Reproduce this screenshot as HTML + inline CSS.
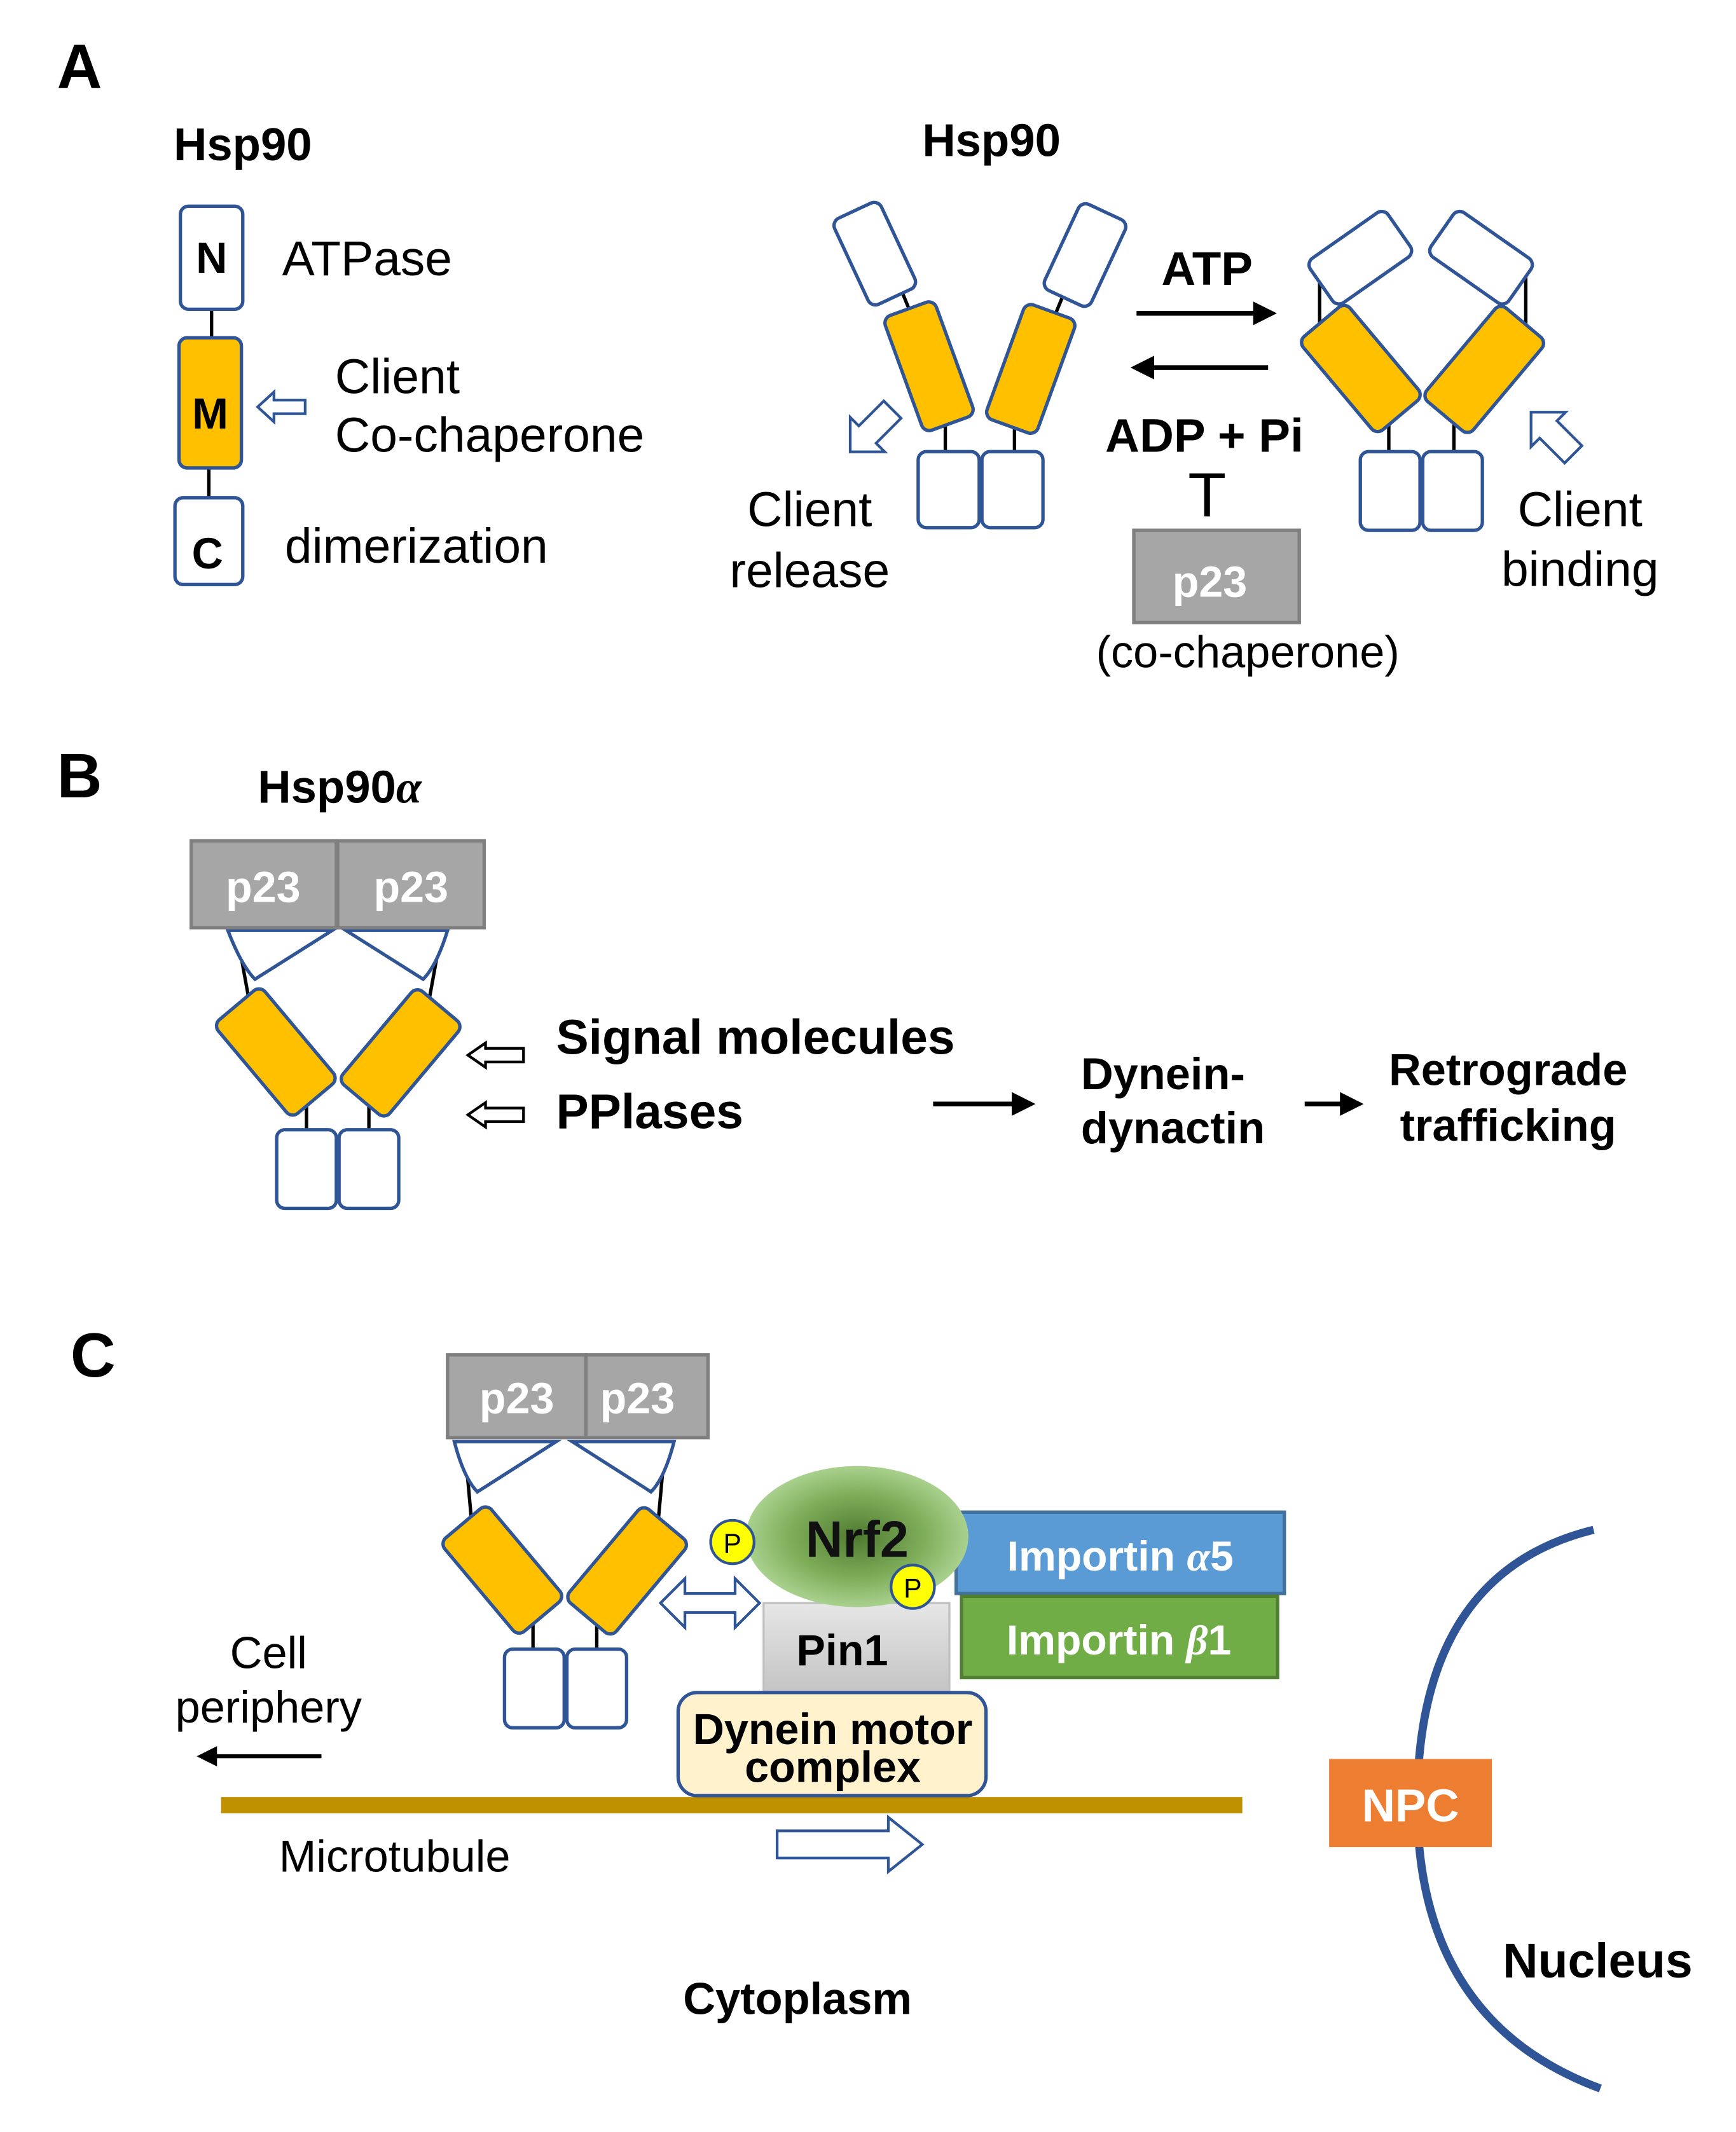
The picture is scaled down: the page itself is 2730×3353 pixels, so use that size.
<!DOCTYPE html>
<html><head><meta charset="utf-8"><style>html,body{margin:0;padding:0;background:#fff}svg{display:block}</style></head>
<body>
<svg width="2730" height="3353" viewBox="0 0 1280 1572" xmlns="http://www.w3.org/2000/svg" font-family="Liberation Sans, Arial, sans-serif">
<defs>
<radialGradient id="ng" cx="50%" cy="50%" r="50%"><stop offset="0" stop-color="#4e7a30"/><stop offset="0.6" stop-color="#7fae5a"/><stop offset="1" stop-color="#a9d18e"/></radialGradient>
<linearGradient id="pg" x1="0" y1="0" x2="0" y2="1"><stop offset="0" stop-color="#e6e6e6"/><stop offset="1" stop-color="#c4c4c4"/></linearGradient>
<marker id="ah" markerWidth="5" markerHeight="5" refX="4" refY="2.5" orient="auto" markerUnits="strokeWidth"><path d="M0,0 L5,2.5 L0,5 z" fill="#000"/></marker>
</defs>
<g stroke="#2f5597" stroke-width="2.5" fill="#fff">
<line x1="156" y1="228" x2="156" y2="250" stroke="#000"/><line x1="154" y1="345" x2="154" y2="367" stroke="#000"/>
<rect x="133" y="152" width="46" height="76" rx="6"/>
<rect x="132" y="249" width="46" height="96" rx="6" fill="#ffc000"/>
<rect x="129" y="367" width="50" height="64" rx="6"/>
<path d="M190,300 L202,289 L202,295 L225,295 L225,305 L202,305 L202,311 Z" stroke-width="2"/>
<line x1="665" y1="215" x2="672" y2="232" stroke="#000"/><line x1="785" y1="215" x2="778" y2="232" stroke="#000"/>
<line x1="697" y1="312" x2="697" y2="333" stroke="#000"/><line x1="748" y1="312" x2="748" y2="333" stroke="#000"/>
<rect x="626" y="152" width="38" height="70" rx="6" transform="rotate(-25 645 187)"/>
<rect x="781" y="153" width="38" height="70" rx="6" transform="rotate(25 800 188)"/>
<rect x="665" y="225" width="40" height="90" rx="6" fill="#ffc000" transform="rotate(-20 685 270)"/>
<rect x="740" y="227" width="40" height="90" rx="6" fill="#ffc000" transform="rotate(20 760 272)"/>
<rect x="677" y="333" width="45" height="56" rx="6"/><rect x="724" y="333" width="45" height="56" rx="6"/>
<line x1="973" y1="195" x2="973" y2="242" stroke="#000"/><line x1="1125" y1="195" x2="1125" y2="242" stroke="#000"/>
<line x1="1024" y1="310" x2="1024" y2="333" stroke="#000"/><line x1="1072" y1="310" x2="1072" y2="333" stroke="#000"/>
<rect x="968" y="170" width="70" height="40" rx="6" transform="rotate(-35 1003 190)"/>
<rect x="1057" y="170" width="70" height="40" rx="6" transform="rotate(35 1092 190)"/>
<rect x="981" y="227" width="45" height="90" rx="6" fill="#ffc000" transform="rotate(-40 1003 272)"/>
<rect x="1072" y="227" width="45" height="90" rx="6" fill="#ffc000" transform="rotate(40 1094 272)"/>
<rect x="1003" y="333" width="44" height="58" rx="6"/><rect x="1049" y="333" width="44" height="58" rx="6"/>
<path d="M0,-9 L26,-9 L26,-18 L44,0 L26,18 L26,9 L0,9 Z" transform="translate(658,302) rotate(135)" stroke-width="2"/>
<path d="M0,-9 L26,-9 L26,-18 L44,0 L26,18 L26,9 L0,9 Z" transform="translate(1160,335) rotate(-135)" stroke-width="2"/>
<line x1="175" y1="690" x2="185" y2="745" stroke="#000"/><line x1="325" y1="690" x2="315" y2="745" stroke="#000"/>
<line x1="226" y1="812" x2="226" y2="833" stroke="#000"/><line x1="272" y1="812" x2="272" y2="833" stroke="#000"/>
<path d="M168,686 L245,686 L188,722 Q178,712 168,686 Z"/>
<path d="M255,686 L330,686 Q322,712 312,722 Z"/>
<rect x="181" y="731" width="45" height="90" rx="6" fill="#ffc000" transform="rotate(-40 203 776)"/>
<rect x="273" y="731" width="45" height="90" rx="6" fill="#ffc000" transform="rotate(40 295 776)"/>
<rect x="204" y="833" width="44" height="58" rx="6"/><rect x="250" y="833" width="44" height="58" rx="6"/>
<path d="M345,778 L358,769 L358,773 L386,773 L386,783 L358,783 L358,787 Z" stroke="#000" stroke-width="2"/>
<path d="M345,822 L358,813 L358,817 L386,817 L386,827 L358,827 L358,831 Z" stroke="#000" stroke-width="2"/>
<line x1="343" y1="1070" x2="348" y2="1125" stroke="#000"/><line x1="490" y1="1070" x2="485" y2="1125" stroke="#000"/>
<line x1="393" y1="1195" x2="393" y2="1216" stroke="#000"/><line x1="440" y1="1195" x2="440" y2="1216" stroke="#000"/>
<path d="M335,1063 L410,1063 L352,1100 Q342,1090 335,1063 Z"/>
<path d="M422,1063 L497,1063 Q490,1090 480,1100 Z"/>
<rect x="348" y="1113" width="45" height="90" rx="6" fill="#ffc000" transform="rotate(-40 370 1158)"/>
<rect x="440" y="1113" width="45" height="90" rx="6" fill="#ffc000" transform="rotate(40 462 1158)"/>
<rect x="372" y="1216" width="44" height="58" rx="6"/><rect x="418" y="1216" width="44" height="58" rx="6"/>
<path d="M487,1182 L505,1164 L505,1175 L542,1175 L542,1164 L560,1182 L542,1200 L542,1189 L505,1189 L505,1200 Z" stroke-width="2"/>
<path d="M573,1350 L655,1350 L655,1340 L680,1360 L655,1380 L655,1370 L573,1370 Z" stroke-width="2"/>
</g>
<g font-weight="bold" fill="#000">
<text x="42" y="65" font-size="46">A</text>
<text x="128" y="118" font-size="34">Hsp90</text>
<text x="156" y="201" font-size="32" text-anchor="middle">N</text>
<text x="155" y="316" font-size="32" text-anchor="middle">M</text>
<text x="153" y="419" font-size="32" text-anchor="middle">C</text>
<text x="680" y="115" font-size="34">Hsp90</text>
<text x="890" y="210" font-size="35" text-anchor="middle">ATP</text>
<text x="888" y="333" font-size="35" text-anchor="middle">ADP + Pi</text>
<text x="42" y="588" font-size="46">B</text>
<text x="190" y="592" font-size="34">Hsp90<tspan font-family="Liberation Serif, serif" font-style="italic">α</tspan></text>
<text x="410" y="777" font-size="36">Signal molecules</text>
<text x="410" y="832" font-size="36">PPlases</text>
<text x="797" y="803" font-size="33">Dynein-</text>
<text x="797" y="843" font-size="33">dynactin</text>
<text x="1112" y="800" font-size="33" text-anchor="middle">Retrograde</text>
<text x="1112" y="841" font-size="33" text-anchor="middle">trafficking</text>
<text x="52" y="1015" font-size="46">C</text>
<text x="588" y="1485" font-size="33" text-anchor="middle">Cytoplasm</text>
<text x="1178" y="1458" font-size="36" text-anchor="middle">Nucleus</text>
</g>
<g font-size="36" fill="#000">
<text x="208" y="203">ATPase</text>
<text x="247" y="290">Client</text>
<text x="247" y="333">Co-chaperone</text>
<text x="210" y="415">dimerization</text>
<text x="597" y="388" text-anchor="middle">Client</text>
<text x="597" y="433" text-anchor="middle">release</text>
<text x="1165" y="388" text-anchor="middle">Client</text>
<text x="1165" y="432" text-anchor="middle">binding</text>
<text x="920" y="492" text-anchor="middle" font-size="33">(co-chaperone)</text>
<text x="198" y="1230" text-anchor="middle" font-size="33">Cell</text>
<text x="198" y="1270" text-anchor="middle" font-size="33">periphery</text>
<text x="291" y="1380" text-anchor="middle" font-size="33">Microtubule</text>
<text x="890" y="381" text-anchor="middle" font-size="46">T</text>
</g>
<g stroke="#000" stroke-width="3.5" fill="none">
<line x1="838" y1="231" x2="938" y2="231" marker-end="url(#ah)"/>
<line x1="935" y1="271" x2="837" y2="271" marker-end="url(#ah)"/>
<line x1="688" y1="814" x2="760" y2="814" marker-end="url(#ah)"/>
<line x1="962" y1="814" x2="1002" y2="814" marker-end="url(#ah)"/>
<line x1="237" y1="1295" x2="148" y2="1295" stroke-width="3" marker-end="url(#ah)"/>
</g>
<g fill="#a6a6a6" stroke="#7f7f7f" stroke-width="2.5">
<rect x="836" y="391" width="122" height="68"/>
<rect x="141" y="620" width="107" height="64"/><rect x="249" y="620" width="108" height="64"/>
<rect x="330" y="999" width="102" height="61"/><rect x="432" y="999" width="90" height="61"/>
</g>
<g fill="#fff" font-weight="bold" font-size="32" text-anchor="middle">
<text x="892" y="440">p23</text>
<text x="194" y="665">p23</text><text x="303" y="665">p23</text>
<text x="381" y="1042">p23</text><text x="470" y="1042">p23</text>
</g>
<line x1="163" y1="1331" x2="916" y2="1331" stroke="#bf9000" stroke-width="12"/>
<rect x="705" y="1115" width="242" height="60" fill="#5b9bd5" stroke="#41719c" stroke-width="2.5"/>
<rect x="709" y="1177" width="233" height="60" fill="#70ad47" stroke="#507e32" stroke-width="2.5"/>
<text x="826" y="1158" fill="#fff" font-weight="bold" font-size="31" text-anchor="middle">Importin <tspan font-family="Liberation Serif, serif" font-style="italic">α</tspan>5</text>
<text x="825" y="1220" fill="#fff" font-weight="bold" font-size="31" text-anchor="middle">Importin <tspan font-family="Liberation Serif, serif" font-style="italic">β</tspan>1</text>
<rect x="563" y="1182" width="137" height="66" fill="url(#pg)" stroke="#bfbfbf" stroke-width="1.5"/>
<text x="621" y="1228" font-weight="bold" font-size="32" text-anchor="middle">Pin1</text>
<ellipse cx="632" cy="1133" rx="82" ry="52" fill="url(#ng)"/>
<text x="632" y="1148" font-weight="bold" font-size="38" text-anchor="middle" fill="#111">Nrf2</text>
<circle cx="540" cy="1137" r="16" fill="#ffff00" stroke="#2f5597" stroke-width="2"/>
<text x="540" y="1145" font-size="20" text-anchor="middle">P</text>
<circle cx="673" cy="1170" r="16" fill="#ffff00" stroke="#2f5597" stroke-width="2"/>
<text x="673" y="1178" font-size="20" text-anchor="middle">P</text>
<rect x="500" y="1248" width="227" height="76" rx="14" fill="#fff2cc" stroke="#2f5597" stroke-width="2.5"/>
<text x="614" y="1286" font-weight="bold" font-size="32" text-anchor="middle">Dynein motor</text>
<text x="614" y="1314" font-weight="bold" font-size="32" text-anchor="middle">complex</text>
<path d="M1175,1128 Q1045,1160 1045,1330 Q1045,1490 1180,1540" fill="none" stroke="#2f5597" stroke-width="6"/>
<rect x="980" y="1297" width="120" height="65" fill="#ed7d31"/>
<text x="1040" y="1343" fill="#fff" font-weight="bold" font-size="34" text-anchor="middle">NPC</text>
</svg>
</body></html>
